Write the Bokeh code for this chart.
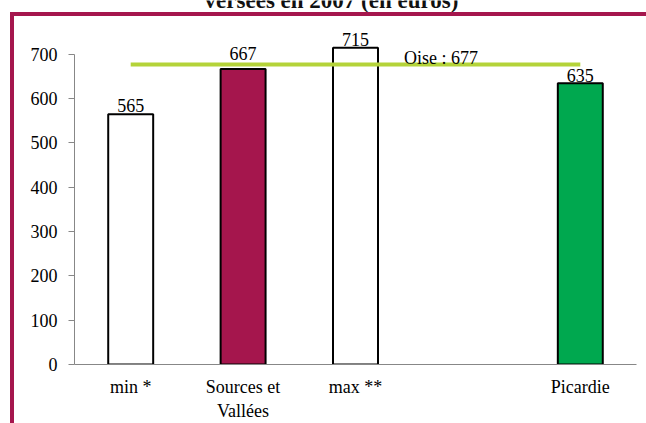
from bokeh.plotting import figure
from bokeh.models import FactorRange, Range1d, Label, ColumnDataSource, FixedTicker, InlineStyleSheet
from bokeh.core.properties import value
from bokeh.embed import file_html
from bokeh.resources import INLINE

# --- data -------------------------------------------------------------
categories = ["min *", "Sources et\nVallées", "max **", "Picardie"]
amounts = [565, 667, 715, 635]
reference_name = "Oise"
reference_amount = 677
y_ticks = [0, 100, 200, 300, 400, 500, 600, 700]
title_text = "versées en 2007 (en euros)"

# --- styling ----------------------------------------------------------
MAROON = "#a5164d"
GREEN = "#00a84f"
LIME = "#b4d339"
GREY = "#878787"
SERIF = "Liberation Serif"

bar_fills = ["white", MAROON, "white", GREEN]
label_lift = [9, 15, 8, 8]          # pixels between bar top and its value label

# empty slot between the communes and the region
spacer = " "
factors = categories[:3] + [spacer] + categories[3:]

src = ColumnDataSource(dict(
    cat=categories,
    amount=amounts,
    text=[str(v) for v in amounts],
    fill=bar_fills,
    lift=[-d for d in label_lift],
))

p = figure(
    width=646, height=423,
    x_range=FactorRange(*factors, range_padding=0),
    y_range=Range1d(0, 821.5),
    output_backend="svg", toolbar_location=None, title=None,
    min_border_left=74, min_border_right=10,
    min_border_top=0, min_border_bottom=58,
)
p.outline_line_color = None
p.xgrid.visible = False
p.ygrid.visible = False
p.background_fill_color = "white"
p.border_fill_color = "white"

# bars
p.vbar(x="cat", top="amount", width=0.4, source=src,
       fill_color="fill", line_color="black", line_width=2)

# value labels
p.text(x="cat", y="amount", text="text", source=src,
       y_offset="lift", text_align="center", text_baseline="alphabetic",
       text_font=value(SERIF), text_font_size=value("18px"), text_color="black")

# department reference line
p.line(x=[categories[0], categories[-1]], y=[reference_amount, reference_amount],
       line_color=LIME, line_width=4)
p.text(x=[spacer], y=[reference_amount],
       text=[f"{reference_name} : {reference_amount}"],
       x_offset=-64, y_offset=-7, text_align="left", text_baseline="alphabetic",
       text_font=value(SERIF), text_font_size=value("18px"), text_color="black")

# axes
yax = p.yaxis[0]
yax.ticker = FixedTicker(ticks=y_ticks)
yax.bounds = (0, 700)
yax.axis_line_color = GREY
yax.major_tick_line_color = GREY
yax.major_tick_in = 0
yax.major_tick_out = 6
yax.minor_tick_line_color = None
yax.major_label_standoff = 11
yax.major_label_text_font = SERIF
yax.major_label_text_font_size = "18px"
yax.major_label_text_color = "black"

xax = p.xaxis[0]
xax.axis_line_color = GREY
xax.major_tick_line_color = None
xax.major_tick_in = 0
xax.major_tick_out = 0
xax.minor_tick_line_color = None
xax.major_label_standoff = 12
xax.major_label_text_font = SERIF
xax.major_label_text_font_size = "18px"
xax.major_label_text_color = "black"
xax.major_label_orientation = "horizontal"

# title: only its last line shows at the top edge
p.add_layout(Label(
    x=257, y=364.5, x_units="screen", y_units="screen",
    text=title_text, text_align="center", text_baseline="alphabetic",
    text_font=SERIF, text_font_size="23px", text_font_style="bold", text_color="#111111",
))

# maroon frame around the chart area (left and top edges)
p.stylesheets = [InlineStyleSheet(css=f"""
:host::after {{
  content: "";
  position: absolute;
  box-sizing: border-box;
  left: 10px;
  top: 12px;
  width: 636px;
  height: 411px;
  border-left: 4px solid {MAROON};
  border-top: 4px solid {MAROON};
  pointer-events: none;
}}
""")]

open("out.html", "w").write(file_html(p, INLINE))
